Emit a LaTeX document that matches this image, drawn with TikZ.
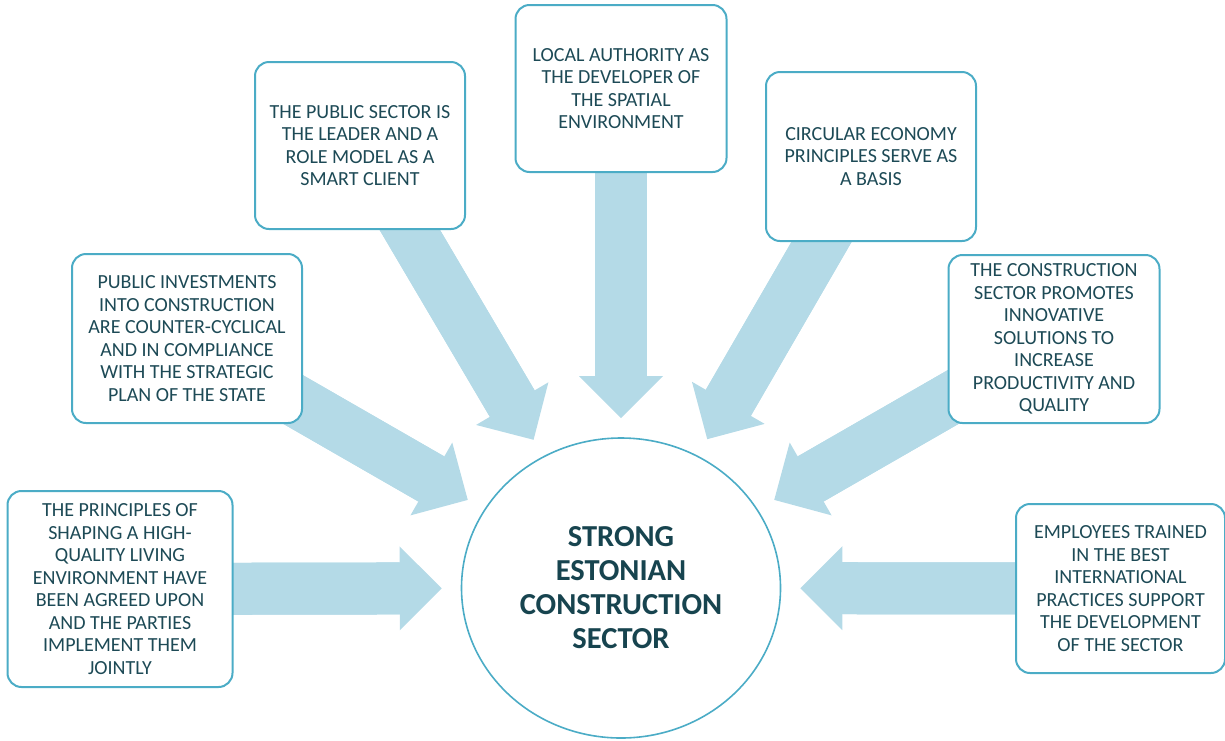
\documentclass[tikz,border=0pt]{standalone}
\usepackage{fontspec}
\setmainfont{Carlito}
\usetikzlibrary{arrows.meta,shapes.geometric,backgrounds}
\definecolor{boxline}{HTML}{4BACC6}
\definecolor{boxtext}{HTML}{1D4A56}
\definecolor{titletext}{HTML}{17444F}
\definecolor{arrowfill}{HTML}{B4DAE7}
\tikzset{
  box/.style={draw=boxline, line width=2pt, rounded corners=14pt, fill=white,
    align=center, text=boxtext, font=\fontsize{20}{22.5}\selectfont, inner sep=0pt},
  hub/.style={ellipse, draw=boxline, line width=1.6pt, fill=white, inner sep=0pt,
    minimum width=319pt, minimum height=300pt, align=center, text=titletext,
    font=\fontsize{30.5}{34}\selectfont\bfseries},
  bigarrow/.style={draw=arrowfill, line width=52pt, line cap=butt,
    -{Triangle[line width=0pt, width=84pt, length=42pt, fill=arrowfill]},
    shorten >=19pt},
  bigshaft/.style={draw=arrowfill, line width=52pt, line cap=butt, shorten >=55pt}
}
\begin{document}
\begin{tikzpicture}[x=1pt,y=-1pt]
\useasboundingbox (0,0) rectangle (1225,740);
\node[hub] (c) at (621,588) {STRONG\\ESTONIAN\\CONSTRUCTION\\SECTOR};
\node[box, minimum width=225pt, minimum height=196pt] (b1) at (120,589)
  {THE PRINCIPLES OF\\SHAPING A HIGH-\\QUALITY LIVING\\ENVIRONMENT HAVE\\BEEN AGREED UPON\\AND THE PARTIES\\IMPLEMENT THEM\\JOINTLY};
\node[box, minimum width=230pt, minimum height=169pt] (b2) at (187,338.5)
  {PUBLIC INVESTMENTS\\INTO CONSTRUCTION\\ARE COUNTER-CYCLICAL\\AND IN COMPLIANCE\\WITH THE STRATEGIC\\PLAN OF THE STATE};
\node[box, minimum width=210pt, minimum height=167pt] (b3) at (360,145.5)
  {THE PUBLIC SECTOR IS\\THE LEADER AND A\\ROLE MODEL AS A\\SMART CLIENT};
\node[box, minimum width=211pt, minimum height=167pt] (b4) at (621,88.5)
  {LOCAL AUTHORITY AS\\THE DEVELOPER OF\\THE SPATIAL\\ENVIRONMENT};
\node[box, minimum width=210pt, minimum height=169pt] (b5) at (871,156.5)
  {CIRCULAR ECONOMY\\PRINCIPLES SERVE AS\\A BASIS};
\node[box, minimum width=211pt, minimum height=168pt] (b6) at (1054,339)
  {THE CONSTRUCTION\\SECTOR PROMOTES\\INNOVATIVE\\SOLUTIONS TO\\INCREASE\\PRODUCTIVITY AND\\QUALITY};
\node[box, minimum width=209pt, minimum height=169pt] (b7) at (1120.5,588.5)
  {EMPLOYEES TRAINED\\IN THE BEST\\INTERNATIONAL\\PRACTICES SUPPORT\\THE DEVELOPMENT\\OF THE SECTOR};
\begin{scope}[on background layer]
  \foreach \b in {b1,b2,b3,b4,b5,b6,b7}{
    \draw[bigshaft] (\b.center) -- (c);
    \draw[bigarrow] (\b.center) -- (c);
  }
\end{scope}
\end{tikzpicture}
\end{document}
